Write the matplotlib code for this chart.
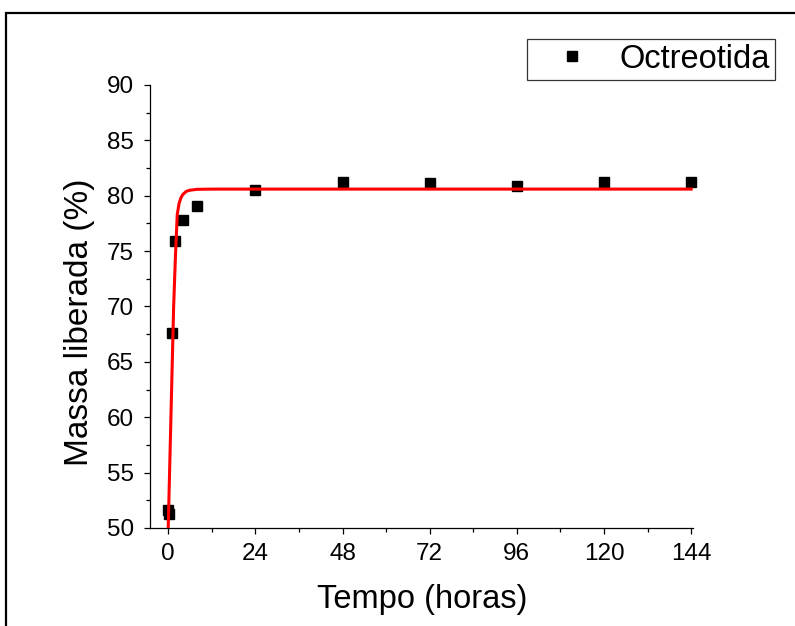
import matplotlib
matplotlib.use("Agg")
import matplotlib.pyplot as plt
from matplotlib.ticker import MultipleLocator
from matplotlib.patches import Rectangle

plt.rcParams['font.family'] = ['Liberation Sans', 'DejaVu Sans']

# Measured release data (Octreotida)
time_h = [0, 0.25, 1, 2, 4, 8, 24, 48, 72, 96, 120, 144]
mass_pct = [51.66, 51.24, 67.6, 75.9, 77.8, 79.1, 80.5, 81.23, 81.17, 80.84, 81.26, 81.26]

# Fitted curve
fit_t = [0, 0.5, 1, 1.5, 2, 2.5, 3, 3.5, 4, 5, 6, 8, 12, 144]
fit_y = [49.8, 56.5, 63.2, 69.9, 74.5, 78.3, 79.3, 79.8, 80.1, 80.4, 80.5, 80.58, 80.6, 80.6]

xticks = [0, 24, 48, 72, 96, 120, 144]
yticks = [50, 55, 60, 65, 70, 75, 80, 85, 90]

W, H = 795, 626
fig = plt.figure(figsize=(W / 100, H / 100), dpi=100)
ax = fig.add_axes([150 / W, 1 - 528 / H, (693 - 150) / W, (528 - 85) / H])

ax.plot(time_h, mass_pct, linestyle='none', marker='s', markersize=7,
        color='black', label='Octreotida', zorder=2, clip_on=False)
ax.plot(fit_t, fit_y, color='#ff0000', linewidth=2.2, zorder=3)

ax.set_xlim(-5, 144.5)
ax.set_ylim(50, 90)
ax.set_xticks(xticks)
ax.set_yticks(yticks)
ax.xaxis.set_minor_locator(MultipleLocator(12))
ax.yaxis.set_minor_locator(MultipleLocator(2.5))

for s in ['top', 'right']:
    ax.spines[s].set_visible(False)
for s in ['left', 'bottom']:
    ax.spines[s].set_linewidth(0.9)

ax.tick_params(which='major', direction='out', length=4.5, width=0.9,
               labelsize=17.5, pad=6)
ax.tick_params(which='minor', direction='out', length=3, width=0.9)
ax.tick_params(axis='y', which='major', pad=7)

ax.set_xlabel('Tempo (horas)', fontsize=23.5)
ax.set_ylabel('Massa liberada (%)', fontsize=24)
ax.xaxis.set_label_coords(0.502, -0.126)
ax.yaxis.set_label_coords(-0.101, 0.464)

leg = ax.legend(loc='upper right', bbox_to_anchor=(775 / W, 1 - 39 / H),
                bbox_transform=fig.transFigure, borderaxespad=0,
                fontsize=23.5, frameon=True, fancybox=False, numpoints=1,
                borderpad=0.15, handlelength=2.5, handletextpad=0.2,
                markerscale=1.0)
leg.get_frame().set_edgecolor('black')
leg.get_frame().set_linewidth(0.9)

# Figure frame (cropped at right and bottom)
fig.add_artist(Rectangle((6 / W, -0.05), 1.1, 1 - 13 / H + 0.05,
                         transform=fig.transFigure, fill=False,
                         edgecolor='black', linewidth=1.6))

fig.savefig('out.png', dpi=100)
